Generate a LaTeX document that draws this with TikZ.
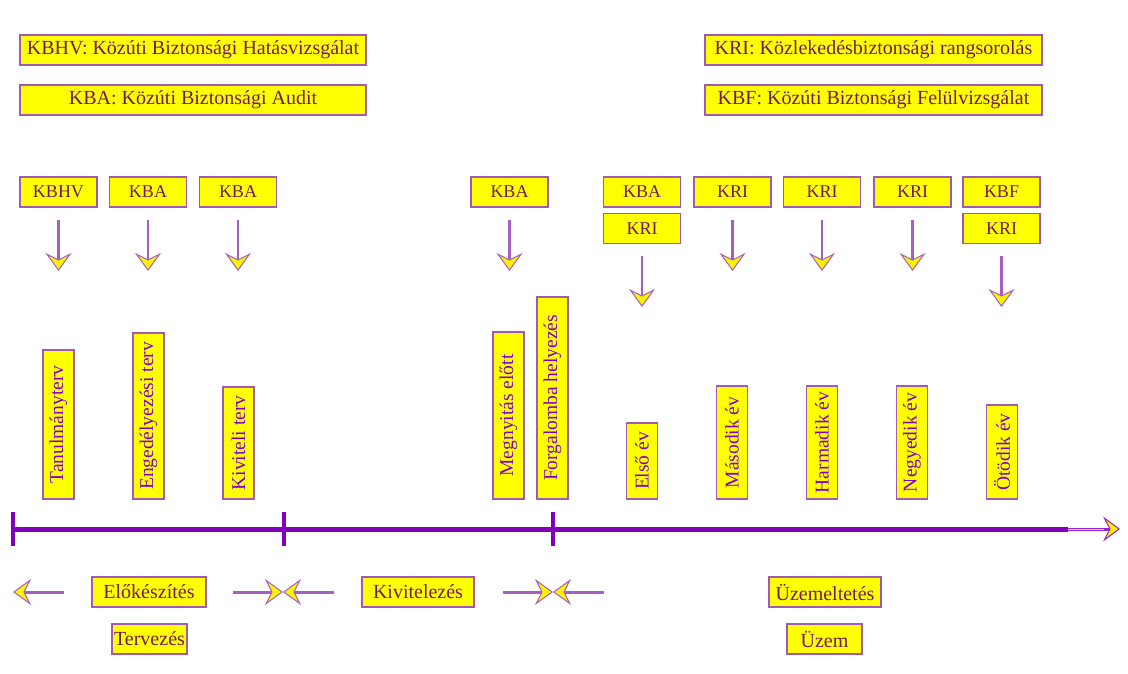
\documentclass[tikz,border=0pt]{standalone}
\usepackage{fontspec}
\setmainfont{Liberation Serif}
\usetikzlibrary{arrows.meta}
\definecolor{boxfill}{RGB}{255,255,0}
\definecolor{boxdraw}{RGB}{160,90,180}
\definecolor{txtA}{RGB}{115,25,95}
\definecolor{txtB}{RGB}{130,0,200}
\definecolor{axiscol}{RGB}{130,0,190}
\definecolor{shaft}{RGB}{165,95,195}
\begin{document}
\begin{tikzpicture}[x=1pt,y=-1pt,
 box/.style={draw=boxdraw, fill=boxfill, line width=1.2pt, inner sep=0pt, text=txtA, font=\fontsize{18}{18}\selectfont},
 legend/.style={box, minimum height=30pt, font=\fontsize{20}{20}\selectfont},
 tag/.style={box, minimum width=77pt, minimum height=30pt},
 vbox/.style={box, rotate=90, minimum height=31pt, text=txtB, font=\fontsize{19.5}{19.5}\selectfont},
 phase/.style={box, minimum height=30pt, font=\fontsize{20}{20}\selectfont},
 ptr/.style={draw=shaft, line width=2.5pt, -{Stealth[length=18pt,width=26pt,inset=6.5pt,fill=yellow,line width=1pt]}},
]
\useasboundingbox[fill=white] (0,0) rectangle (1128,674);

% legend
\node[legend, minimum width=346pt] (lkbhv) at (193,50) {KBHV: Közúti Biztonsági Hatásvizsgálat};
\node[legend, minimum width=346pt] (lkba) at (193,100) {KBA: Közúti Biztonsági Audit};
\node[legend, minimum width=337pt] (lkri) at (873.5,50) {KRI: Közlekedésbiztonsági rangsorolás};
\node[legend, minimum width=337pt] (lkbf) at (873.5,100) {KBF: Közúti Biztonsági Felülvizsgálat};

% tags
\node[tag] (a1) at (58.5,192) {KBHV};
\node[tag] (a2) at (148,192) {KBA};
\node[tag] (a3) at (238,192) {KBA};
\node[tag] (a4) at (509.5,192) {KBA};
\node[tag] (a5) at (642,192) {KBA};
\node[tag] (a5b) at (642,228.5) {KRI};
\node[tag] (a6) at (732.5,192) {KRI};
\node[tag] (a7) at (822,192) {KRI};
\node[tag] (a8) at (912.5,192) {KRI};
\node[tag] (a9) at (1001.5,192) {KBF};
\node[tag] (a9b) at (1001.5,228.5) {KRI};

% arrow tips
\coordinate (t1) at (58.5,271);
\coordinate (t2) at (148,271);
\coordinate (t3) at (238,271);
\coordinate (t4) at (509.5,271);
\coordinate (t5) at (642,307);
\coordinate (t6) at (732.5,271);
\coordinate (t7) at (822,271);
\coordinate (t8) at (912.5,271);
\coordinate (t9) at (1001.5,307);
\foreach \s/\t in {a1/t1,a2/t2,a3/t3,a4/t4,a5b/t5,a6/t6,a7/t7,a8/t8,a9b/t9}
  \draw[ptr, shorten <=12pt] (\s.south) -- (\t);

% vertical boxes
\node[vbox, minimum width=149pt] (v1) at (58.5,424.5) {Tanulmányterv};
\node[vbox, minimum width=166pt] (v2) at (148.5,416) {Engedélyezési terv};
\node[vbox, minimum width=112pt] (v3) at (238.5,443) {Kiviteli terv};
\node[vbox, minimum width=167pt] (v4) at (508.5,415.5) {Megnyitás előtt};
\node[vbox, minimum width=202pt] (v5) at (552.5,398) {Forgalomba helyezés};
\node[vbox, minimum width=76pt] (v6) at (642,461) {Első év};
\node[vbox, minimum width=113pt] (v7) at (732,442.5) {Második év};
\node[vbox, minimum width=113pt] (v8) at (822,442.5) {Harmadik év};
\node[vbox, minimum width=113pt] (v9) at (912,442.5) {Negyedik év};
\node[vbox, minimum width=94pt] (v10) at (1002,452) {Ötödik év};

% timeline
\coordinate (tl0) at (13,529);
\coordinate (tl1) at (1068,529);
\coordinate (tl2) at (1120,529);
\draw[axiscol, line width=5pt] (tl0) -- (tl1);
\draw[draw=axiscol!85, line width=3pt, -{Stealth[length=17pt,width=25pt,inset=6.5pt,fill=yellow,line width=1pt]}] (tl1) -- (tl2);
\draw[yellow, line width=1pt, shorten >=16pt] (tl1) -- (tl2);
\foreach \x in {13,284,553}
  \draw[axiscol, line width=4pt] (\x,512) -- (\x,546);

% phases
\node[phase, minimum width=114pt] (elo) at (149,592) {Előkészítés};
\node[phase, minimum width=75pt] (terv) at (149.5,639) {Tervezés};
\node[phase, minimum width=112pt] (kiv) at (418,592) {Kivitelezés};
\node[phase, minimum width=112pt] (uzt) at (825,592) {Üzemeltetés};
\node[phase, minimum width=75pt] (uzem) at (824.5,639) {Üzem};

\coordinate (lt) at (13,592);
\coordinate (x1) at (283,592);
\coordinate (x2) at (553,592);
\coordinate (r2) at (604,592);
\draw[ptr, line width=3pt, shorten <=27pt] (elo.west) -- (lt);
\draw[ptr, line width=3pt, shorten <=26pt] (elo.east) -- (x1);
\draw[ptr, line width=3pt, shorten <=27pt] (kiv.west) -- (x1);
\draw[ptr, line width=3pt, shorten <=28pt] (kiv.east) -- (x2);
\draw[ptr, line width=3pt] (r2) -- (x2);
\end{tikzpicture}
\end{document}
